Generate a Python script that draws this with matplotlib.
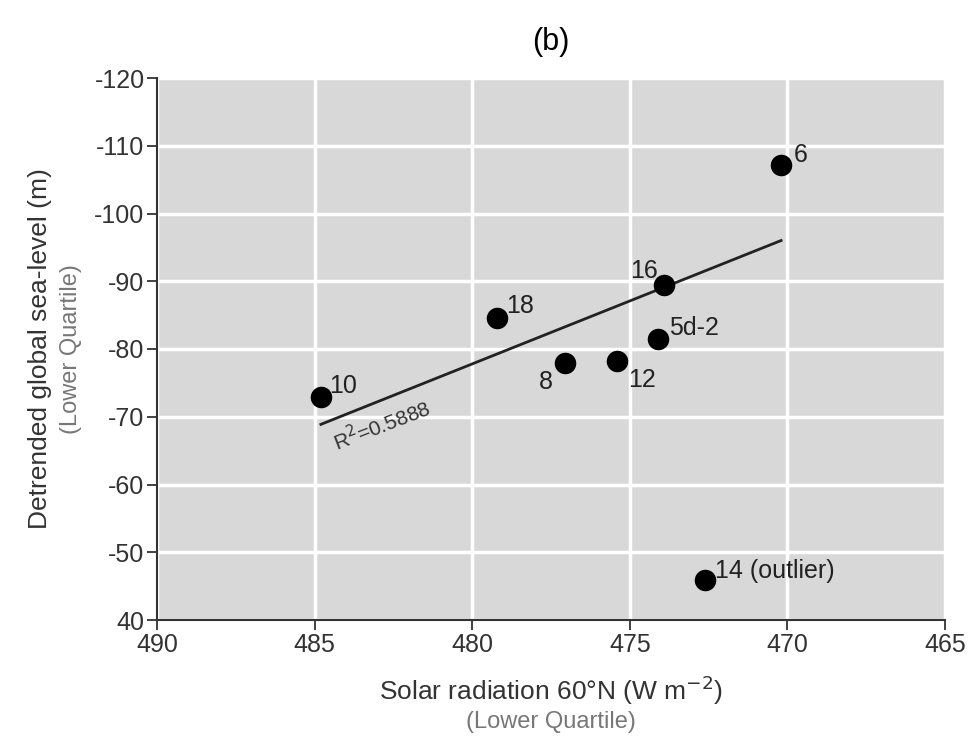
import numpy as np
import matplotlib
matplotlib.use("Agg")
import matplotlib.pyplot as plt

plt.rcParams['font.family'] = ['Liberation Sans Narrow', 'Liberation Sans', 'DejaVu Sans']

# Marine isotope stages: solar radiation (x) vs detrended sea level (y)
labels = ['10', '18', '8', '12', '16', '5d-2', '6', '14 (outlier)']
solar = [484.8, 479.2, 477.05, 475.4, 473.9, 474.1, 470.2, 472.6]
sea_level = [-72.9, -84.6, -77.9, -78.2, -89.4, -81.5, -107.2, -45.9]
outlier = [False, False, False, False, False, False, False, True]

x_ticks = [490, 485, 480, 475, 470, 465]
y_ticks = [-120, -110, -100, -90, -80, -70, -60, -50, -40]
y_tick_labels = ['-120', '-110', '-100', '-90', '-80', '-70', '-60', '-50', '40']

# label offsets in points (dx, dy, ha, va)
offsets = {
    '10': (6, -1, 'left', 'bottom'),
    '18': (6, 0, 'left', 'bottom'),
    '8': (-9, -5, 'right', 'top'),
    '12': (8, -5, 'left', 'top'),
    '16': (-5, 2, 'right', 'bottom'),
    '5d-2': (8, -1, 'left', 'bottom'),
    '6': (9, -2, 'left', 'bottom'),
    '14 (outlier)': (7, -2, 'left', 'bottom'),
}

fig = plt.figure(figsize=(9.75, 7.41), dpi=100)
ax = fig.add_axes([157 / 975, 1 - 620 / 741, (945 - 157) / 975, (620 - 78) / 741])
ax.set_facecolor('#d8d8d8')

ax.set_xlim(490, 465)
ax.set_ylim(-40, -120)
ax.set_xticks(x_ticks)
ax.set_yticks(y_ticks)
ax.set_yticklabels(y_tick_labels)
ax.grid(True, color='white', linewidth=2.5)
ax.set_axisbelow(True)

for s in ['top', 'right']:
    ax.spines[s].set_visible(False)
for s in ['left', 'bottom']:
    ax.spines[s].set_color('#333333')
    ax.spines[s].set_linewidth(1.5)
ax.tick_params(direction='out', length=7, width=1.3, colors='#333333',
               labelsize=18, pad=2)

ax.scatter(solar, sea_level, s=210, color='black', zorder=3)

for lab, x, y in zip(labels, solar, sea_level):
    dx, dy, ha, va = offsets[lab]
    ax.annotate(lab, (x, y), xytext=(dx, dy), textcoords='offset points',
                ha=ha, va=va, fontsize=18, color='#222222')

# linear fit without the outlier
xs = np.array([x for x, o in zip(solar, outlier) if not o])
ys = np.array([y for y, o in zip(sea_level, outlier) if not o])
k, b = np.polyfit(xs, ys, 1)
xf = np.array([xs.max(), xs.min()])
ax.plot(xf, k * xf + b, color='#222222', linewidth=2, zorder=2)

ax.text(484.4, -66.0, 'R$^{2}$=0.5888', rotation=21, fontsize=15,
        color='#333333', ha='left', va='center', rotation_mode='anchor')

ax.set_title('(b)', fontsize=22, pad=20)

fig.text(551 / 975, 1 - 690 / 741, 'Solar radiation 60°N (W m$^{-2}$)',
         ha='center', va='center', fontsize=19, color='#333333')
fig.text(551 / 975, 1 - 722 / 741, '(Lower Quartile)',
         ha='center', va='center', fontsize=17, color='#777777')
fig.text(40 / 975, 1 - 349 / 741, 'Detrended global sea-level (m)',
         ha='center', va='center', rotation=90, fontsize=19, color='#333333')
fig.text(71 / 975, 1 - 349 / 741, '(Lower Quartile)',
         ha='center', va='center', rotation=90, fontsize=17, color='#777777')

fig.savefig('out.png', dpi=100)
